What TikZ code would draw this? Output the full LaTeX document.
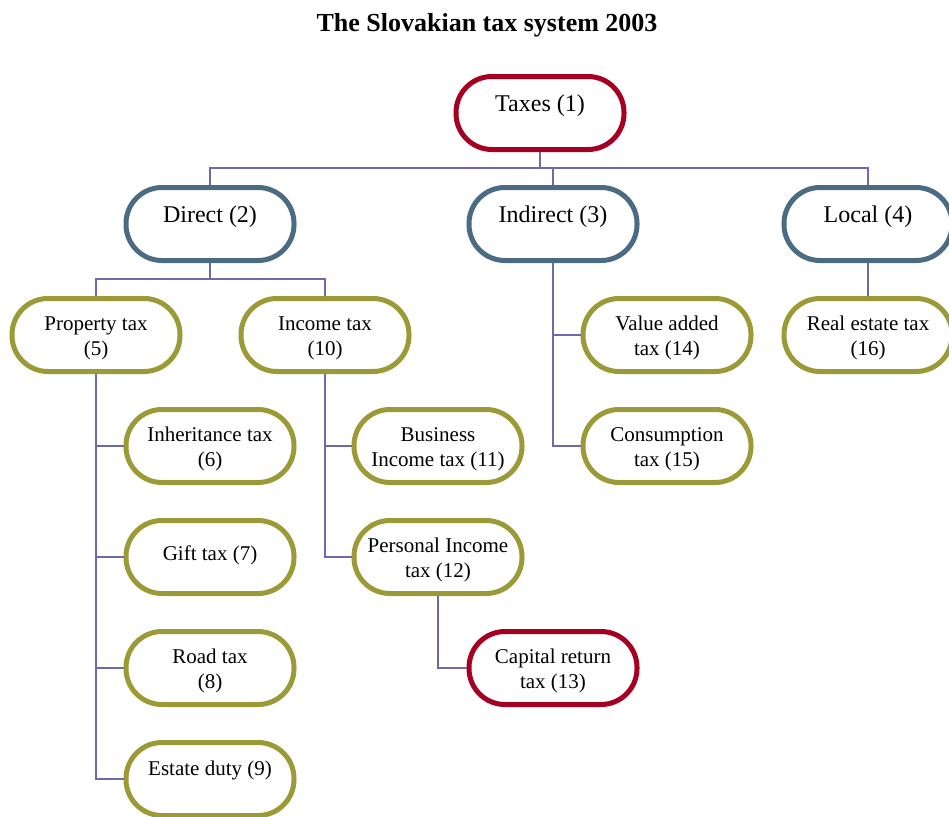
\documentclass[tikz,border=0pt]{standalone}
\usepackage{fontspec}
\setmainfont{Liberation Serif}
\usepackage{tikz}
\definecolor{taxred}{RGB}{165,0,33}
\definecolor{catblue}{RGB}{74,107,130}
\definecolor{itemolive}{RGB}{156,154,54}
\definecolor{linkline}{RGB}{110,106,170}
\tikzset{
  taxbox/.style={draw,line width=5pt,rounded corners=36pt,fill=white,
    minimum width=168pt,minimum height=73pt,inner sep=0pt,align=center},
  topbox/.style={taxbox,font=\fontsize{24}{28}\selectfont,text height=16pt,text depth=20pt},
  subbox/.style={taxbox,draw=itemolive,font=\fontsize{21}{25}\selectfont,text height=45.5pt},
  link/.style={draw=linkline,line width=1.5pt}
}

\begin{document}
\begin{tikzpicture}[x=1pt,y=-1pt]
\clip (0,0) rectangle (949,816);
\node[font=\fontsize{26}{30}\selectfont\bfseries,anchor=base] (title) at (487,32) {The Slovakian tax system 2003};
% first two levels
\node[topbox,draw=taxred] (taxes) at (540,113) {Taxes (1)};
\node[topbox,draw=catblue] (direct) at (210,224) {Direct (2)};
\node[topbox,draw=catblue] (indirect) at (553,224) {Indirect (3)};
\node[topbox,draw=catblue] (local) at (868,224) {Local (4)};
% direct taxes
\node[subbox] (prop) at (96,335) {Property tax\\(5)};
\node[subbox] (income) at (325,335) {Income tax\\(10)};
\node[subbox] (inherit) at (210,446) {Inheritance tax\\(6)};
\node[subbox,text height=14pt,text depth=8pt] (gift) at (210,557) {Gift tax (7)};
\node[subbox] (road) at (210,668) {Road tax\\(8)};
\node[subbox,text height=14pt,text depth=22pt] (estate) at (210,779) {Estate duty (9)};
\node[subbox] (business) at (438,446) {Business\\Income tax (11)};
\node[subbox] (personal) at (438,557) {Personal Income\\tax (12)};
\node[subbox,draw=taxred] (capital) at (553,668) {Capital return\\tax (13)};
% indirect and local
\node[subbox] (vat) at (667,335) {Value added\\tax (14)};
\node[subbox] (consum) at (667,446) {Consumption\\tax (15)};
\node[subbox] (realest) at (868,335) {Real estate tax\\(16)};

\draw[link] (taxes.south) -- ++(0,16) coordinate (bus1);
\foreach \n in {direct,indirect,local} \draw[link] (\n.north) |- (bus1);
\draw[link] (direct.south) -- ++(0,16) coordinate (bus2);
\foreach \n in {prop,income} \draw[link] (\n.north) |- (bus2);
\foreach \n in {inherit,gift,road,estate} \draw[link] (prop.south) |- (\n.west);
\foreach \n in {business,personal} \draw[link] (income.south) |- (\n.west);
\draw[link] (personal.south) |- (capital.west);
\foreach \n in {vat,consum} \draw[link] (indirect.south) |- (\n.west);
\draw[link] (local) -- (realest);
\end{tikzpicture}
\end{document}
